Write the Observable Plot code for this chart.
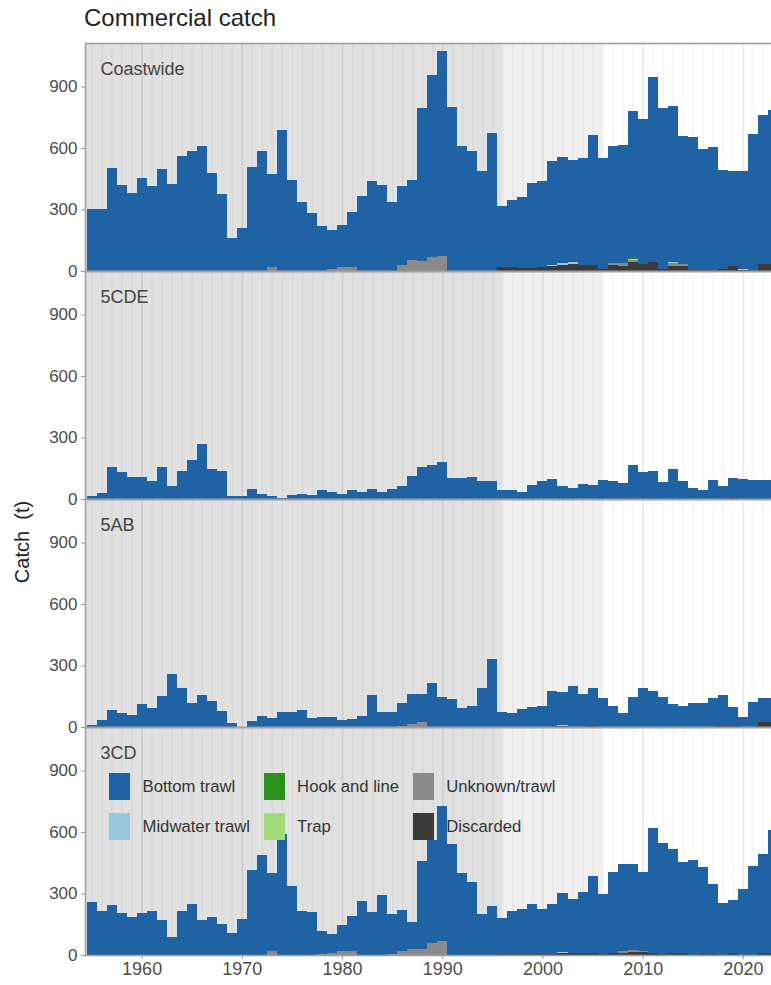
<!DOCTYPE html>
<html>
<head>
<meta charset="utf-8">
<script src="https://cdn.jsdelivr.net/npm/d3@7"></script>
<script src="https://cdn.jsdelivr.net/npm/@observablehq/plot@0.6"></script>
<style>
html, body { margin: 0; padding: 0; overflow: hidden; background: #fff; }
#wrap { position: relative; width: 800px; height: 985px; font-family: "Liberation Sans", Arial, sans-serif; }
#chart { position: absolute; left: 0; top: 0; }
#title { position: absolute; left: 84px; top: 4px; font-size: 24px; color: #222; white-space: nowrap; }
#ylab { position: absolute; left: 22px; top: 542px; transform: translate(-50%, -50%) rotate(-90deg); font-size: 20px; color: #222; white-space: pre; }
#legend { position: absolute; left: 109px; top: 773px; display: grid; grid-template-rows: 27px 27px; grid-auto-flow: column; row-gap: 13px; column-gap: 13.5px; font-size: 16.7px; color: #333; }
.item { display: flex; align-items: center; gap: 12.5px; }
.sw { width: 21px; height: 27px; }
</style>
</head>
<body>
<div id="wrap">
  <div id="chart"></div>
  <div id="title">Commercial catch</div>
  <div id="ylab">Catch  (t)</div>
  <div id="legend"></div>
</div>
<script>
// ---- categories ----
const areas = ["Coastwide", "5CDE", "5AB", "3CD"];
const gears = ["Bottom trawl", "Midwater trawl", "Hook and line", "Trap", "Unknown/trawl", "Discarded"];
const gearColors = ["#1F63A5", "#97C6DF", "#2B9220", "#A4DB7A", "#8A8A8A", "#3A3A3A"];
const stackOrder = ["Discarded", "Unknown/trawl", "Trap", "Hook and line", "Midwater trawl", "Bottom trawl"];
const years = d3.range(1955, 2024);
const decadeTicks = [1960, 1970, 1980, 1990, 2000, 2010, 2020];
const yTicks = [0, 300, 600, 900];
const eras = [
  {start: 1954.35, end: 1996, shade: "#e1e1e1"},
  {start: 1996, end: 2006, shade: "#f0f0f0"}
];

// ---- bottom trawl catch by area, 1955-2023 ----
const coastBottom = [300,300,502,420,381,453,416,499,425,559,584,610,478,377,160,209,507,584,453,686,442,336,285,220,188,202,269,368,438,420,336,387,390,750,890,1001,799,610,584,487,673,298,329,345,414,417,511,518,500,525,632,539,570,576,718,705,902,785,762,627,648,594,600,484,461,478,666,728,753];
const cdeBottom = [13,29,156,130,107,109,89,156,63,138,190,268,148,137,15,15,49,26,15,6,18,24,18,42,36,26,42,34,50,33,50,63,114,156,167,180,102,104,107,86,86,42,46,34,70,89,99,63,52,72,70,93,86,80,156,130,135,85,145,88,55,42,94,65,101,99,94,94,94];
const abBottom = [8,36,84,66,57,110,94,149,260,190,117,156,125,78,21,2,29,54,42,75,71,81,44,49,50,36,37,55,156,75,75,112,145,140,214,144,135,92,100,191,332,71,70,86,99,104,175,165,201,159,188,143,100,70,146,188,175,148,114,104,115,115,143,150,93,47,120,121,121];
const cdBottom = [260,214,243,203,187,206,214,172,86,214,250,170,187,149,109,175,415,490,382,589,336,216,208,112,92,128,173,261,212,292,195,200,130,427,500,660,543,401,354,198,240,178,210,218,242,220,240,290,262,297,378,292,396,425,420,385,610,543,507,443,463,425,343,256,260,322,432,485,600];

// ---- minor gears [year, t] ----
const coastMidwater = [[2001,5],[2002,10],[2003,8],[2005,3],[2013,3],[2020,5]];
const coastHook = [[1996,3],[2009,3],[2019,4]];
const coastTrap = [[2009,3],[2013,2]];
const coastUnknown = [[1973,20],[1979,12],[1980,20],[1981,20],[1986,30],[1987,55],[1988,47],[1989,68],[1990,72],[2007,8],[2008,12],[2009,10],[2013,12],[2014,8]];
const coastDiscard = [[1996,18],[1997,18],[1998,14],[1999,16],[2000,20],[2001,22],[2002,28],[2003,35],[2004,28],[2005,28],[2006,12],[2007,30],[2008,25],[2009,45],[2010,35],[2011,45],[2012,12],[2013,25],[2014,25],[2015,4],[2016,3],[2017,3],[2018,10],[2019,22],[2020,4],[2021,2],[2022,32],[2023,32]];
const cdeHook = [[2009,4]];
const cdeDiscard = [[2009,6],[2019,3]];
const abMidwater = [[2002,3]];
const abUnknown = [[1986,5],[1987,16],[1988,22]];
const abDiscard = [[2002,5],[2005,3],[2018,6],[2019,6],[2022,22],[2023,22]];
const cdMidwater = [[2002,4],[2003,3]];
const cdUnknown = [[1973,20],[1978,5],[1979,10],[1980,18],[1981,18],[1985,5],[1986,21],[1987,29],[1988,30],[1989,60],[1990,67],[2008,8],[2009,12],[2010,7]];
const cdDiscard = [[1996,4],[1997,4],[1998,4],[1999,5],[2000,5],[2001,7],[2002,10],[2003,9],[2004,8],[2005,8],[2006,5],[2007,10],[2008,12],[2009,14],[2010,14],[2011,10],[2012,5],[2013,10],[2014,10],[2016,3],[2017,3],[2019,8],[2022,10],[2023,10]];

// ---- build long table ----
const rows = [];
function addBottom(area, values) { values.forEach((v, i) => rows.push({area, year: years[i], gear: "Bottom trawl", value: v})); }
function addPairs(area, gear, pairs) { pairs.forEach(([year, value]) => rows.push({area, year, gear, value})); }
addBottom("Coastwide", coastBottom);
addBottom("5CDE", cdeBottom);
addBottom("5AB", abBottom);
addBottom("3CD", cdBottom);
addPairs("Coastwide", "Midwater trawl", coastMidwater);
addPairs("Coastwide", "Hook and line", coastHook);
addPairs("Coastwide", "Trap", coastTrap);
addPairs("Coastwide", "Unknown/trawl", coastUnknown);
addPairs("Coastwide", "Discarded", coastDiscard);
addPairs("5CDE", "Hook and line", cdeHook);
addPairs("5CDE", "Discarded", cdeDiscard);
addPairs("5AB", "Midwater trawl", abMidwater);
addPairs("5AB", "Unknown/trawl", abUnknown);
addPairs("5AB", "Discarded", abDiscard);
addPairs("3CD", "Midwater trawl", cdMidwater);
addPairs("3CD", "Unknown/trawl", cdUnknown);
addPairs("3CD", "Discarded", cdDiscard);

const plot = Plot.plot({
  width: 800,
  height: 985,
  marginTop: 43,
  marginBottom: 30,
  marginLeft: 85,
  marginRight: 2,
  x: {domain: [1954.35, 2025.5]},
  y: {domain: [0, 1112]},
  fy: {domain: areas, axis: null, padding: 0},
  color: {domain: gears, range: gearColors},
  style: {fontFamily: "Liberation Sans, Arial, sans-serif", fontSize: "17px", background: "#fff", color: "#4d4d4d"},
  marks: [
    ...eras.map(e => Plot.rect([e], {x1: "start", x2: "end", fill: e.shade})),
    Plot.ruleX(years, {x: d => d, stroke: "#000", strokeOpacity: 0.04, strokeWidth: 1.6}),
    Plot.ruleX(decadeTicks, {x: d => d, stroke: "#000", strokeOpacity: 0.045, strokeWidth: 2}),
    Plot.rectY(rows, {x1: d => d.year - 0.5, x2: d => d.year + 0.5, y: "value", fill: "gear", inset: 0, shapeRendering: "crispEdges", fy: "area", order: stackOrder}),
    Plot.text(areas, {fy: d => d, text: d => d, frameAnchor: "top-left", textAnchor: "start", lineAnchor: "middle", dx: 15, dy: 26, fontSize: 18, fill: "#444"}),
    Plot.frame({stroke: "#a0a0a0", strokeWidth: 1.6}),
    Plot.axisY({ticks: yTicks, tickSize: 4, tickPadding: 4, stroke: "#999", fill: "#4d4d4d", fontSize: 17, label: null}),
    Plot.axisX({ticks: decadeTicks, tickFormat: d => String(d), tickSize: 4, tickPadding: 3, stroke: "#999", fill: "#4d4d4d", fontSize: 18, label: null})
  ]
});
document.getElementById("chart").appendChild(plot);

// ---- legend ----
const legend = document.getElementById("legend");
gears.forEach((g, i) => {
  const item = document.createElement("div");
  item.className = "item";
  const sw = document.createElement("div");
  sw.className = "sw";
  sw.style.background = gearColors[i];
  const lab = document.createElement("span");
  lab.textContent = g;
  item.appendChild(sw);
  item.appendChild(lab);
  legend.appendChild(item);
});
</script>
</body>
</html>
